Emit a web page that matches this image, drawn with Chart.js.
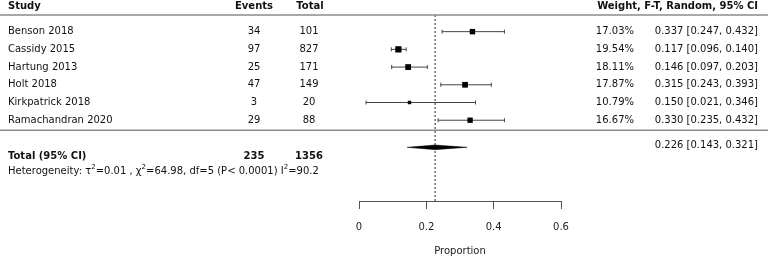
<!DOCTYPE html>
<html>
<head>
<meta charset="utf-8">
<script src="https://cdn.jsdelivr.net/npm/chart.js@4/dist/chart.umd.min.js"></script>
<style>
  body { margin: 0; background: #fff; }
  #wrap { width: 768px; height: 256px; }
</style>
</head>
<body>
<div id="wrap"><canvas id="forest" width="768" height="256"></canvas></div>
<script>
// study level data
const studies = ['Benson 2018', 'Cassidy 2015', 'Hartung 2013', 'Holt 2018', 'Kirkpatrick 2018', 'Ramachandran 2020'];
const events = [34, 97, 25, 47, 3, 29];
const totals = [101, 827, 171, 149, 20, 88];
const weights = [17.03, 19.54, 18.11, 17.87, 10.79, 16.67];
const estimates = [0.337, 0.117, 0.146, 0.315, 0.150, 0.330];
const lowers = [0.247, 0.096, 0.097, 0.243, 0.021, 0.235];
const uppers = [0.432, 0.140, 0.203, 0.393, 0.346, 0.432];

// pooled result
const pooledEst = 0.226;
const pooledLower = 0.143;
const pooledUpper = 0.321;
const totalEvents = 235;
const totalN = 1356;
const tau2 = '0.01';
const chi2 = '64.98';
const dfHet = 5;
const pHet = '< 0.0001';
const i2 = '90.2';

const xTicks = [0, 0.2, 0.4, 0.6];

// vertical layout in "row" units (one row per study)
const Y_MIN = -0.94, Y_MAX = 9.56;
const ROW_DIAMOND = 6.53, ROW_POOLED_TXT = 6.41, ROW_TOTAL = 7.03, ROW_HET = 7.88, ROW_SEP = 5.56;
const DIAMOND_HALF = 0.13;
const FONT = "'DejaVu Sans', sans-serif";

function fmt3(v) { return v.toFixed(3); }

const datasets = [];

// squares, sized by weight
datasets.push({
  data: estimates.map((e, i) => ({ x: e, y: i })),
  pointStyle: 'rect',
  pointRadius: weights.map(w => w * 0.32 / Math.SQRT2),
  backgroundColor: '#000',
  borderColor: '#000',
  borderWidth: 0,
  showLine: false
});

// confidence intervals
studies.forEach((s, i) => {
  datasets.push({
    data: [{ x: lowers[i], y: i }, { x: uppers[i], y: i }],
    showLine: true,
    borderColor: '#444',
    borderWidth: 1,
    pointStyle: 'line',
    pointRotation: 90,
    pointRadius: 2,
    pointBorderColor: '#444',
    pointBorderWidth: 1
  });
});

// pooled diamond
datasets.push({
  data: [
    { x: pooledLower, y: ROW_DIAMOND },
    { x: pooledEst, y: ROW_DIAMOND - DIAMOND_HALF },
    { x: pooledUpper, y: ROW_DIAMOND },
    { x: pooledEst, y: ROW_DIAMOND + DIAMOND_HALF },
    { x: pooledLower, y: ROW_DIAMOND }
  ],
  showLine: true,
  fill: 'shape',
  backgroundColor: '#000',
  borderColor: '#000',
  borderWidth: 0.5,
  pointRadius: 0
});

// dotted line at pooled estimate
datasets.push({
  data: [{ x: pooledEst, y: Y_MIN }, { x: pooledEst, y: Y_MAX }],
  showLine: true,
  borderColor: '#222',
  borderWidth: 1,
  borderDash: [2, 2],
  pointRadius: 0
});

function superText(ctx, parts, x, y, size) {
  parts.forEach(p => {
    if (p[1]) {
      ctx.font = (size * 0.7) + 'px ' + FONT;
      ctx.fillText(p[0], x, y - size * 0.38);
    } else {
      ctx.font = size + 'px ' + FONT;
      ctx.fillText(p[0], x, y);
    }
    x += ctx.measureText(p[0]).width;
  });
}

const forestText = {
  id: 'forestText',
  afterDraw(chart) {
    const ctx = chart.ctx;
    const ys = chart.scales.y;
    ctx.save();
    // rules
    ctx.strokeStyle = '#8c8c8c';
    ctx.lineWidth = 1.5;
    ctx.beginPath();
    ctx.moveTo(0, 15); ctx.lineTo(768, 15);
    const sepY = ys.getPixelForValue(ROW_SEP);
    ctx.moveTo(0, sepY); ctx.lineTo(768, sepY);
    ctx.stroke();

    ctx.fillStyle = '#111';
    ctx.textBaseline = 'middle';
    // header
    ctx.font = 'bold 10px ' + FONT;
    ctx.textAlign = 'left';
    ctx.fillText('Study', 8, 6);
    ctx.textAlign = 'center';
    ctx.fillText('Events', 254, 6);
    ctx.fillText('Total', 310, 6);
    ctx.textAlign = 'right';
    ctx.fillText('Weight, F-T, Random, 95% CI', 758, 6);

    // study rows
    ctx.font = '10px ' + FONT;
    studies.forEach((s, i) => {
      const py = ys.getPixelForValue(i);
      ctx.textAlign = 'left';
      ctx.fillText(s, 8, py);
      ctx.textAlign = 'center';
      ctx.fillText(String(events[i]), 254, py);
      ctx.fillText(String(totals[i]), 309, py);
      ctx.textAlign = 'right';
      ctx.fillText(weights[i].toFixed(2) + '%', 634, py);
      ctx.fillText(fmt3(estimates[i]) + ' [' + fmt3(lowers[i]) + ', ' + fmt3(uppers[i]) + ']', 758, py);
    });

    // pooled
    ctx.textAlign = 'right';
    ctx.fillText(fmt3(pooledEst) + ' [' + fmt3(pooledLower) + ', ' + fmt3(pooledUpper) + ']', 758, ys.getPixelForValue(ROW_POOLED_TXT));
    const ty = ys.getPixelForValue(ROW_TOTAL);
    ctx.font = 'bold 10px ' + FONT;
    ctx.textAlign = 'left';
    ctx.fillText('Total (95% CI)', 8, ty);
    ctx.textAlign = 'center';
    ctx.fillText(String(totalEvents), 254, ty);
    ctx.fillText(String(totalN), 309, ty);

    ctx.textAlign = 'left';
    superText(ctx, [
      ['Heterogeneity: \u03c4', 0], ['2', 1], ['=' + tau2 + ' , \u03c7', 0], ['2', 1],
      ['=' + chi2 + ', df=' + dfHet + ' (P' + pHet + ') I', 0], ['2', 1], ['=' + i2, 0]
    ], 8, ys.getPixelForValue(ROW_HET), 10);
    ctx.restore();
  }
};

new Chart(document.getElementById('forest'), {
  type: 'scatter',
  data: { datasets: datasets },
  plugins: [forestText],
  options: {
    responsive: false,
    animation: false,
    layout: { padding: { left: 359, right: 207, top: 15, bottom: 0 } },
    plugins: { legend: { display: false }, tooltip: { enabled: false } },
    scales: {
      x: {
        type: 'linear',
        min: 0,
        max: 0.6,
        afterBuildTicks: axis => { axis.ticks = xTicks.map(v => ({ value: v })); },
        grid: { display: true, drawOnChartArea: false, drawTicks: true, tickLength: 8, color: '#555' },
        border: { display: true, color: '#555', width: 1 },
        ticks: { font: { family: FONT, size: 10 }, color: '#222', padding: 12, maxRotation: 0 },
        title: { display: true, text: 'Proportion', font: { family: FONT, size: 10, lineHeight: 1 }, color: '#222', padding: { top: 1, bottom: 0 } }
      },
      y: {
        type: 'linear',
        reverse: true,
        min: Y_MIN,
        max: Y_MAX,
        display: false
      }
    }
  }
});
</script>
</body>
</html>
